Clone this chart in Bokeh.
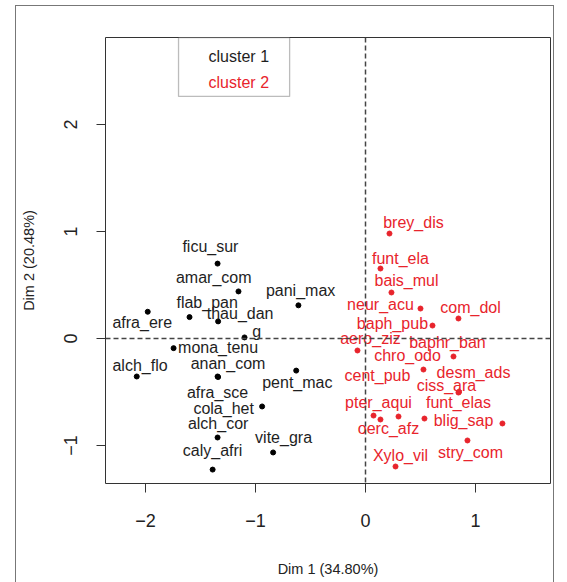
from bokeh.plotting import figure
from bokeh.models import Span, ColumnDataSource, FixedTicker, BoxAnnotation, Label
from bokeh.embed import file_html
from bokeh.resources import INLINE
from bokeh.core.properties import value

# ---- data ----
x_ticks = [-2, -1, 0, 1]
y_ticks = [-1, 0, 1, 2]
x_title = "Dim 1 (34.80%)"
y_title = "Dim 2 (20.48%)"
legend_labels = ["cluster 1", "cluster 2"]

c1_names = ["ficu_sur", "amar_com", "pani_max", "afra_ere", "flab_pan", "thau_dan", "g",
            "mona_tenu", "alch_flo", "anan_com", "pent_mac", "afra_sce", "cola_het",
            "alch_cor", "vite_gra", "caly_afri"]
c1_x = [-1.345, -1.155, -0.61, -1.98, -1.60, -1.34, -1.10,
        -1.745, -2.08, -1.345, -0.63, -1.34, -0.94,
        -1.345, -0.84, -1.39]
c1_y = [0.70, 0.44, 0.31, 0.25, 0.20, 0.16, 0.01,
        -0.09, -0.355, -0.355, -0.30, -0.36, -0.635,
        -0.925, -1.065, -1.225]
c1_lx = [-1.41, -1.38, -0.59, -2.03, -1.44, -1.14, -0.99,
         -1.34, -2.05, -1.25, -0.62, -1.345, -1.29,
         -1.34, -0.745, -1.39]
c1_ly = [0.86, 0.57, 0.45, 0.15, 0.34, 0.23, 0.065,
         -0.085, -0.25, -0.235, -0.41, -0.505, -0.655,
         -0.795, -0.925, -1.047]

c2_names = ["brey_dis", "funt_ela", "bais_mul", "neur_acu", "com_dol", "baph_pub", "aero_ziz",
            "baphr_ban", "chro_odo", "desm_ads", "cent_pub", "ciss_ara", "funt_elas",
            "pter_aqui", "blig_sap", "oerc_afz", "stry_com", "Xylo_vil"]
c2_x = [0.218, 0.136, 0.236, 0.50, 0.845, 0.609, -0.073,
        0.80, 0.527, 0.85, 0.136, 0.845, 0.536,
        0.073, 1.245, 0.30, 0.927, 0.273]
c2_y = [0.981, 0.654, 0.430, 0.280, 0.187, 0.121, -0.112,
        -0.168, -0.290, -0.50, -0.757, -0.505, -0.748,
        -0.720, -0.794, -0.729, -0.953, -1.196]
c2_lx = [0.436, 0.318, 0.373, 0.136, 0.955, 0.245, 0.045,
         0.745, 0.382, 0.982, 0.109, 0.736, 0.845,
         0.118, 0.891, 0.209, 0.955, 0.318]
c2_ly = [1.084, 0.748, 0.542, 0.318, 0.290, 0.140, 0.0,
         -0.037, -0.159, -0.318, -0.346, -0.439, -0.598,
         -0.598, -0.766, -0.841, -1.065, -1.093]

FONT = "Liberation Sans"
RED = "#e8242c"
DARK = "#1e1e1e"

p = figure(frame_width=445, frame_height=446,
           min_border_left=89, min_border_right=3, min_border_top=31, min_border_bottom=99,
           x_range=(-2.364, 1.682), y_range=(-1.355, 2.813),
           output_backend="svg", toolbar_location=None)
p.styles = {"margin-left": "15px", "margin-top": "5px", "border": "1px solid #777777"}
p.grid.visible = False
p.outline_line_color = "#333333"
p.outline_line_width = 1
p.background_fill_color = "white"
p.border_fill_color = "white"

for ax, ticks in ((p.xaxis, x_ticks), (p.yaxis, y_ticks)):
    ax.ticker = FixedTicker(ticks=ticks)
    ax.axis_line_color = None
    ax.major_tick_out = 9
    ax.major_tick_in = 0
    ax.major_tick_line_color = "#333333"
    ax.minor_tick_line_color = None
    ax.major_label_text_font = FONT
    ax.major_label_text_font_size = "18px"
    ax.major_label_text_color = "#222222"
    ax.axis_label_text_font = FONT
    ax.axis_label_text_font_style = "normal"
    ax.axis_label_text_font_size = "14.5px"
    ax.axis_label_text_color = "#222222"

p.xaxis.axis_label = x_title
p.yaxis.axis_label = y_title
p.xaxis.major_label_standoff = 21
p.xaxis.axis_label_standoff = 31
p.yaxis.major_label_orientation = "vertical"
p.yaxis.major_label_standoff = 19
p.yaxis.axis_label_standoff = 25

p.add_layout(Span(location=0, dimension="height", line_color="#444444",
                  line_dash="5 3", line_width=1.5))
p.add_layout(Span(location=0, dimension="width", line_color="#444444",
                  line_dash="5 3", line_width=1.5))

s1 = ColumnDataSource(dict(x=c1_x, y=c1_y, lx=c1_lx, ly=c1_ly, name=c1_names))
s2 = ColumnDataSource(dict(x=c2_x, y=c2_y, lx=c2_lx, ly=c2_ly, name=c2_names))

p.scatter("x", "y", source=s1, size=5, color="black")
p.scatter("x", "y", source=s2, size=5, color=RED)
p.text("lx", "ly", text="name", source=s1, text_font=value(FONT), text_font_size="16px",
       text_align="center", text_baseline="middle", text_color=DARK)
p.text("lx", "ly", text="name", source=s2, text_font=value(FONT), text_font_size="16px",
       text_align="center", text_baseline="middle", text_color=RED)

# legend box (R style, text only)
p.add_layout(BoxAnnotation(left=-1.70, right=-0.69, top=2.813, bottom=2.262,
                           fill_color="white", fill_alpha=1.0,
                           line_color="#222222", line_width=1.3))
p.add_layout(Label(x=-1.427, y=2.636, text=legend_labels[0], text_font=FONT,
                   text_font_size="16px", text_align="left", text_baseline="middle",
                   text_color=DARK))
p.add_layout(Label(x=-1.427, y=2.393, text=legend_labels[1], text_font=FONT,
                   text_font_size="16px", text_align="left", text_baseline="middle",
                   text_color=RED))

open("out.html", "w").write(file_html(p, INLINE))
